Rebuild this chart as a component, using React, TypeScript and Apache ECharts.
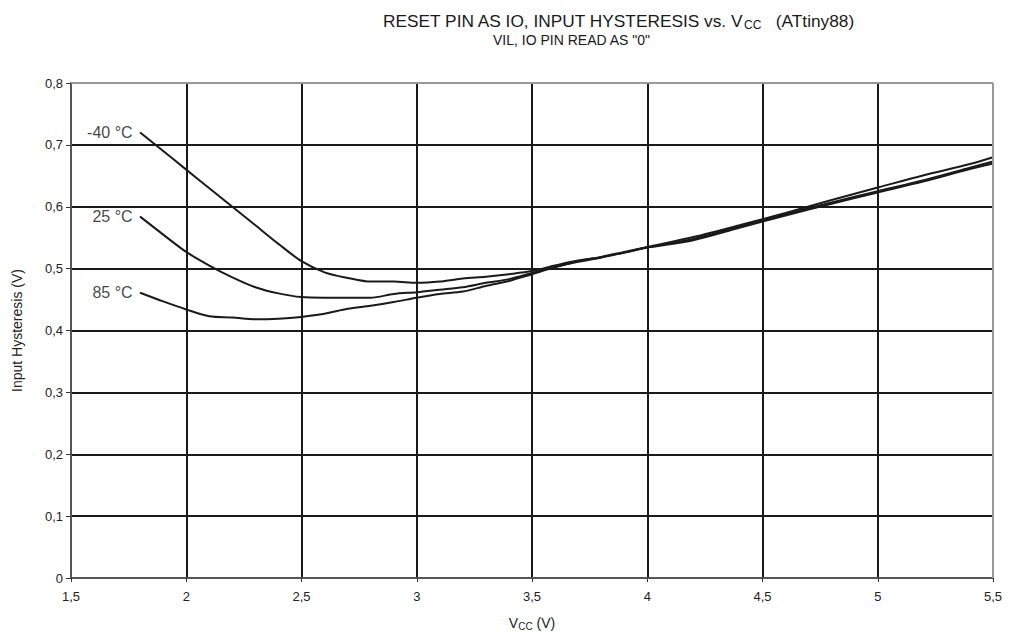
import React, { useEffect, useRef } from "react";
import * as echarts from "echarts";

const vccPoints = [1.8, 1.9, 2.0, 2.1, 2.2, 2.3, 2.4, 2.5, 2.6, 2.7, 2.8, 2.9, 3.0, 3.1, 3.2, 3.3, 3.4, 3.5, 3.6, 3.7, 3.8, 3.9, 4.0, 4.2, 4.4, 4.6, 4.8, 5.0, 5.2, 5.4, 5.5];
const hystM40 = [0.72, 0.69, 0.66, 0.63, 0.6, 0.57, 0.54, 0.512, 0.494, 0.485, 0.479, 0.479, 0.477, 0.479, 0.484, 0.487, 0.491, 0.496, 0.505, 0.513, 0.518, 0.526, 0.534, 0.548, 0.568, 0.588, 0.607, 0.625, 0.643, 0.663, 0.673];
const hyst25 = [0.584, 0.555, 0.527, 0.505, 0.486, 0.47, 0.46, 0.454, 0.453, 0.453, 0.453, 0.459, 0.462, 0.466, 0.47, 0.477, 0.483, 0.493, 0.503, 0.511, 0.518, 0.526, 0.534, 0.546, 0.566, 0.586, 0.605, 0.623, 0.641, 0.661, 0.67];
const hyst85 = [0.461, 0.447, 0.434, 0.423, 0.421, 0.418, 0.419, 0.422, 0.427, 0.435, 0.44, 0.446, 0.453, 0.459, 0.463, 0.472, 0.48, 0.491, 0.502, 0.512, 0.519, 0.527, 0.535, 0.551, 0.57, 0.59, 0.611, 0.631, 0.651, 0.669, 0.68];
const seriesNames = ["-40 °C", "25 °C", "85 °C"];
const seriesValues = [hystM40, hyst25, hyst85];

const FONT = "'Liberation Sans', Arial, sans-serif";
const comma = (v: number) => String(v).replace(".", ",");

export default function App() {
  const ref = useRef<HTMLDivElement>(null);
  useEffect(() => {
    if (!ref.current) return;
    const chart = echarts.init(ref.current, null, { renderer: "svg" });
    const series: any[] = seriesValues.map((vals, si) => ({
      type: "line",
      name: seriesNames[si],
      smooth: 0.3,
      symbol: "none",
      lineStyle: { color: "#1a1a1a", width: 2 },
      z: 5,
      data: vals.map((v, i) => [vccPoints[i], v]),
    }));
    series.push({
      type: "scatter",
      name: "labels",
      symbol: "circle",
      symbolSize: 1,
      itemStyle: { color: "#1a1a1a" },
      z: 6,
      label: {
        show: true,
        position: "left",
        distance: 7,
        fontFamily: FONT,
        fontSize: 16,
        color: "#111",
        formatter: (p: any) => seriesNames[p.dataIndex],
      },
      data: seriesValues.map((vals) => [vccPoints[0], vals[0]]),
    });
    chart.setOption({
      animation: false,
      backgroundColor: "#fff",
      textStyle: { fontFamily: FONT },
      grid: { left: 71, right: 18, top: 83, bottom: 58, outerBoundsMode: "none", containLabel: false },
      xAxis: {
        type: "value",
        min: 1.5,
        max: 5.5,
        interval: 0.5,
        name: "{v|V}{s|CC}{v| (V)}",
        nameLocation: "middle",
        nameGap: 36,
        nameTextStyle: {
          rich: {
            v: { fontFamily: FONT, fontSize: 14, color: "#222" },
            s: { fontFamily: FONT, fontSize: 10, color: "#222", verticalAlign: "bottom", padding: [7, 0, 0, 0] },
          },
        },
        axisLine: { lineStyle: { color: "#555", width: 2 } },
        axisTick: { show: true, length: 4, lineStyle: { color: "#333", width: 1 } },
        axisLabel: { formatter: (v: number) => comma(v), fontSize: 13, color: "#222", margin: 12, fontFamily: FONT },
        splitLine: { show: true, lineStyle: { color: "#1a1a1a", width: 2 } },
      },
      yAxis: {
        type: "value",
        min: 0,
        max: 0.8,
        interval: 0.1,
        name: "Input Hysteresis (V)",
        nameLocation: "middle",
        nameGap: 47,
        nameTextStyle: { fontFamily: FONT, fontSize: 14, color: "#222" },
        axisLine: { show: true, lineStyle: { color: "#555", width: 2 } },
        axisTick: { show: true, length: 5, lineStyle: { color: "#333", width: 1 } },
        axisLabel: { formatter: (v: number) => comma(Math.round(v * 10) / 10), fontSize: 13, color: "#222", margin: 8, fontFamily: FONT },
        splitLine: { show: true, lineStyle: { color: "#1a1a1a", width: 2 } },
      },
      graphic: [
        { type: "line", z: 10, shape: { x1: 71, y1: 83, x2: 993, y2: 83 }, style: { stroke: "#999", lineWidth: 2 } },
        { type: "line", z: 10, shape: { x1: 993, y1: 83, x2: 993, y2: 578 }, style: { stroke: "#999", lineWidth: 2 } },
        {
          type: "text",
          left: 383,
          top: 12,
          style: {
            text: "{t|RESET PIN AS IO, INPUT HYSTERESIS vs. V}{s|CC}{t|   (ATtiny88)}",
            rich: {
              t: { fontFamily: FONT, fontSize: 17.3, fill: "#1a1a1a" },
              s: { fontFamily: FONT, fontSize: 12, fill: "#1a1a1a", padding: [9, 0, 0, 0] },
            },
          },
        },
        {
          type: "text",
          left: 493,
          top: 33,
          style: { text: 'VIL, IO PIN READ AS "0"', font: `14px ${FONT}`, fill: "#1a1a1a" },
        },
      ],
      series,
    });
    return () => chart.dispose();
  }, []);
  return <div ref={ref} style={{ width: 1011, height: 636, position: "absolute", left: 0, top: 0 }} />;
}
